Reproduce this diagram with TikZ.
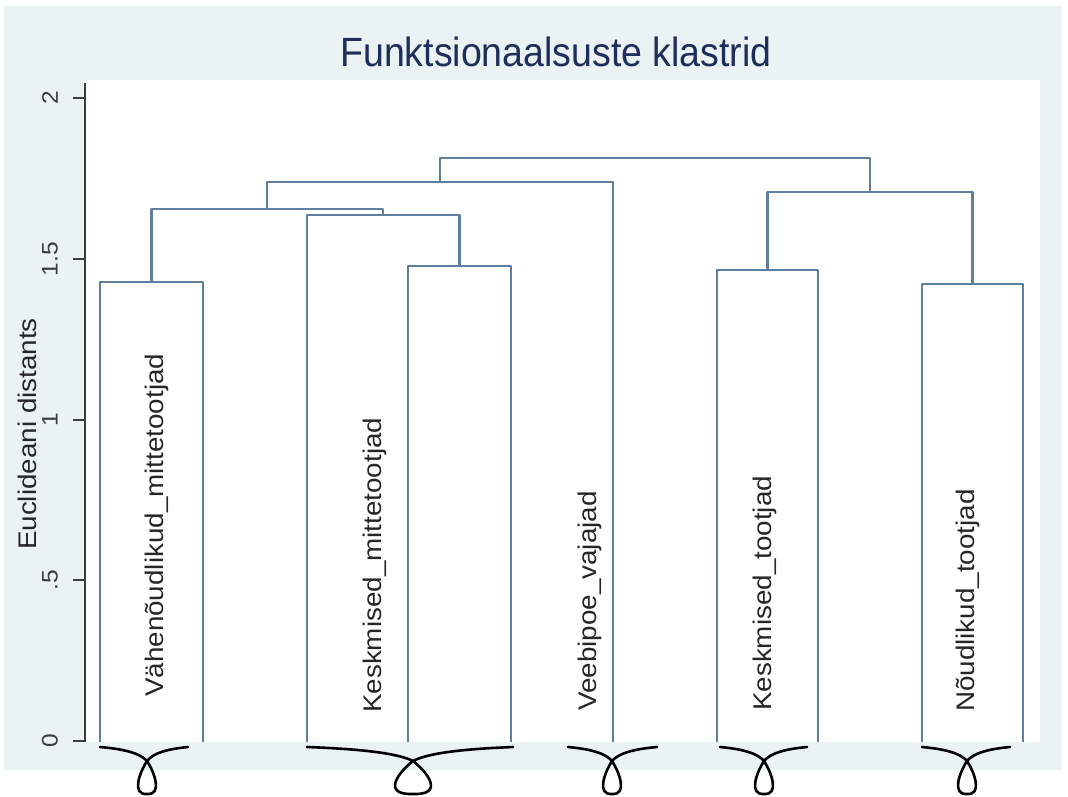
\documentclass[tikz,border=0pt]{standalone}
\usepackage{fontspec}
\setmainfont{Liberation Sans}
\usepackage{graphicx}
\definecolor{bgout}{RGB}{234,242,243}
\definecolor{dline}{RGB}{96,126,158}
\definecolor{ttl}{RGB}{30,45,90}
\definecolor{axc}{RGB}{60,60,60}
\newcommand\dendbrace[4]{%
  \draw[bracestyle] (#1,747) .. controls ({#1+0.5*(#2-#1)},749) and ({#2-0.15*(#2-#1)},753) .. (#2,761)
    .. controls ({#2+0.45*#4},772) and ({#2+#4},795) .. (#2,794)
    .. controls ({#2-#4},795) and ({#2-0.45*#4},772) .. (#2,761)
    .. controls ({#2+0.15*(#3-#2)},753) and ({#3-0.5*(#3-#2)},749) .. (#3,747);}
\begin{document}
\begin{tikzpicture}[x=1pt,y=-1pt,
  dend/.style={draw=dline, line width=2.3pt, line join=round},
  bracestyle/.style={draw=black, line width=2.6pt, line cap=round, line join=round},
  axisline/.style={draw=axc, line width=2pt},
  ticklab/.style={rotate=90, anchor=center, inner sep=0, text=axc, font=\fontsize{22.5}{24}\selectfont},
  leaflab/.style={rotate=90, anchor=west, inner sep=0, text=black!85, font=\fontsize{25.5}{28}\selectfont}]
\useasboundingbox (0,0) rectangle (1068,796);
\fill[white] (0,0) rectangle (1068,796);
\fill[bgout] (4,6) rectangle (1062,770);
\fill[white] (85,80) rectangle (1040,742);
% title
\node[anchor=center, inner sep=0, text=ttl, font=\fontsize{37.5}{40}\selectfont] (title) at (556,52) {\scalebox{1}[1.09]{Funktsionaalsuste klastrid}};
% axis
\coordinate (ax0) at (85,742);
\coordinate (ax1) at (85,83);
\draw[axisline] (ax0) -- (ax1);
\foreach \yy/\lab/\nm in {741/0/t0, 580/.5/t1, 420/1/t2, 259/1.5/t3, 98/2/t4}{
  \coordinate (\nm a) at (73,\yy);
  \coordinate (\nm b) at (85,\yy);
  \draw[axisline] (\nm a) -- (\nm b);
  \node[ticklab] (\nm) at (50,\yy) {\scalebox{1.09}[1]{\lab}};
}
\node[rotate=90, anchor=center, inner sep=0, text=black!85, font=\fontsize{25.5}{28}\selectfont] (ytitle) at (27,434) {\scalebox{1.09}[1]{Euclideani distants}};
% leaves
\coordinate (L1) at (100,742);
\coordinate (L2) at (203,742);
\coordinate (L3) at (307,742);
\coordinate (L4) at (408,742);
\coordinate (L5) at (511,742);
\coordinate (L6) at (613,742);
\coordinate (L7) at (717,742);
\coordinate (L8) at (818,742);
\coordinate (L9) at (922,742);
\coordinate (L10) at (1023,742);
% merges
\coordinate (mA) at (151.5,282);
\coordinate (mC) at (459.5,266);
\coordinate (mB) at (383,215);
\coordinate (mAB) at (267.25,209);
\coordinate (mABD) at (440,182);
\coordinate (mE) at (767.5,270);
\coordinate (mF) at (972.5,284);
\coordinate (mEF) at (870,192);
\coordinate (mR) at (655,158);
\draw[dend] (L1) |- (mA) -| (L2);
\draw[dend] (L4) |- (mC) -| (L5);
\draw[dend] (L3) |- (mB) -| (mC);
\draw[dend] (mA) |- (mAB) -| (mB);
\draw[dend] (mAB) |- (mABD) -| (L6);
\draw[dend] (L7) |- (mE) -| (L8);
\draw[dend] (L9) |- (mF) -| (L10);
\draw[dend] (mE) |- (mEF) -| (mF);
\draw[dend] (mABD) |- (mR) -| (mEF);
% labels
\node[leaflab] (lab1) at (157,697) {\scalebox{1.09}[1]{Vähenõudlikud\_mittetootjad}};
\node[leaflab] (lab2) at (375,713) {\scalebox{1.09}[1]{Keskmised\_mittetootjad}};
\node[leaflab] (lab3) at (590,711) {\scalebox{1.09}[1]{Veebipoe\_vajajad}};
\node[leaflab] (lab4) at (765,711) {\scalebox{1.09}[1]{Keskmised\_tootjad}};
\node[leaflab] (lab5) at (968,712) {\scalebox{1.09}[1]{Nõudlikud\_tootjad}};
% braces
\dendbrace{100}{147}{188}{16}
\dendbrace{307}{413}{513}{32}
\dendbrace{568}{612}{657}{16}
\dendbrace{720}{764}{807}{16}
\dendbrace{922}{967}{1010}{16}
\end{tikzpicture}
\end{document}
